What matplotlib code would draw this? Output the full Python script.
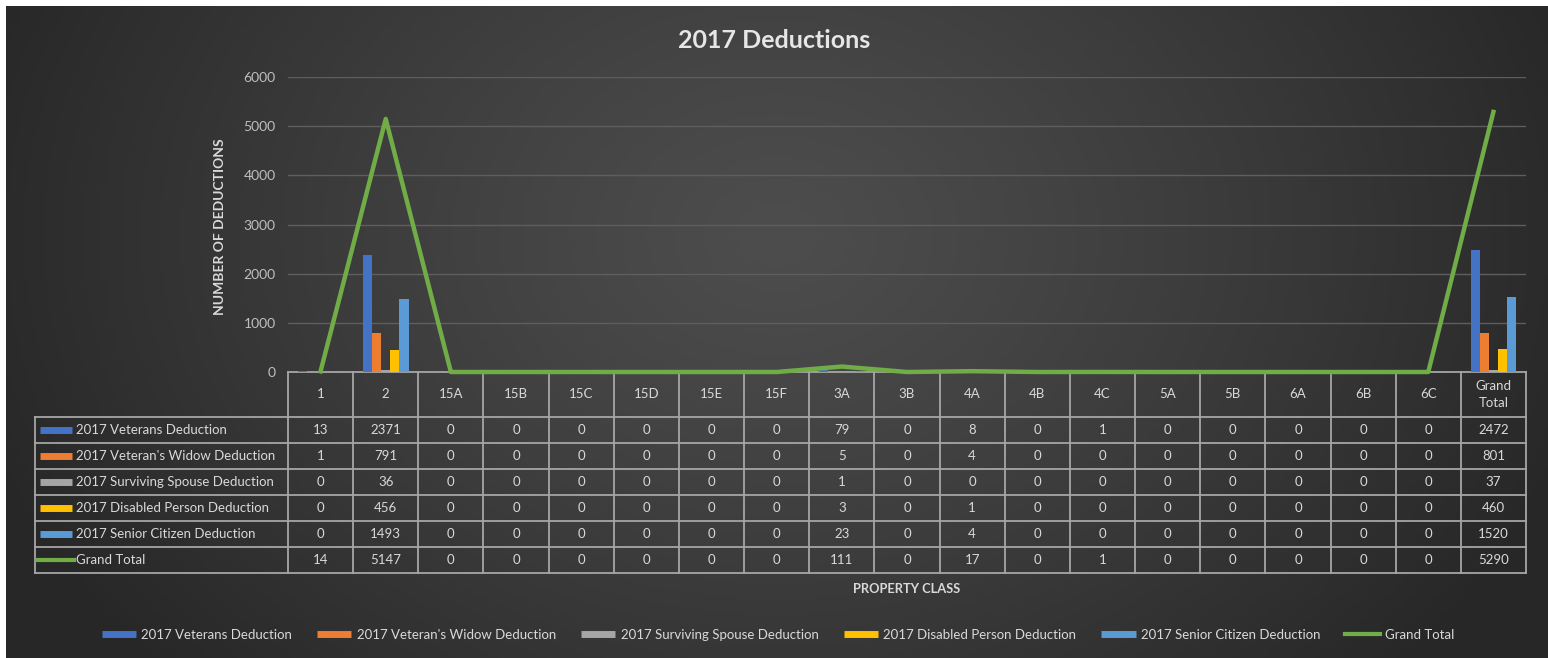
import numpy as np
import matplotlib
matplotlib.use("Agg")
import matplotlib.pyplot as plt
from matplotlib.lines import Line2D
from matplotlib.transforms import blended_transform_factory

# ------------------------------------
# Data
# ------------------------------------
categories = ["1", "2", "15A", "15B", "15C", "15D", "15E", "15F", "3A", "3B",
              "4A", "4B", "4C", "5A", "5B", "6A", "6B", "6C", "Grand\nTotal"]
veterans = [13, 2371, 0, 0, 0, 0, 0, 0, 79, 0, 8, 0, 1, 0, 0, 0, 0, 0, 2472]
widow = [1, 791, 0, 0, 0, 0, 0, 0, 5, 0, 4, 0, 0, 0, 0, 0, 0, 0, 801]
surviving = [0, 36, 0, 0, 0, 0, 0, 0, 1, 0, 0, 0, 0, 0, 0, 0, 0, 0, 37]
disabled = [0, 456, 0, 0, 0, 0, 0, 0, 3, 0, 1, 0, 0, 0, 0, 0, 0, 0, 460]
senior = [0, 1493, 0, 0, 0, 0, 0, 0, 23, 0, 4, 0, 0, 0, 0, 0, 0, 0, 1520]
grand_total = [14, 5147, 0, 0, 0, 0, 0, 0, 111, 0, 17, 0, 1, 0, 0, 0, 0, 0, 5290]

series_names = ["2017 Veterans Deduction", "2017 Veteran's Widow Deduction",
                "2017 Surviving Spouse Deduction", "2017 Disabled Person Deduction",
                "2017 Senior Citizen Deduction"]
series_values = [veterans, widow, surviving, disabled, senior]
series_colors = ["#4472C4", "#ED7D31", "#A5A5A5", "#FFC000", "#5B9BD5"]
line_color = "#70AD47"

plt.rcParams["font.family"] = ["Lato", "DejaVu Sans"]
txt = "#d9d9d9"
grid_c = "#a6a6a6"

W, H = 1548, 658
fig = plt.figure(figsize=(W / 100, H / 100), dpi=100, facecolor="white")

# ------------------------------------
# Background radial gradient
# ------------------------------------
bg = fig.add_axes([6 / W, 0, 1 - 6 / W, 1 - 6 / H], zorder=-10)
bg.axis("off")
gx, gy = np.meshgrid(np.linspace(0, 1, 400), np.linspace(0, 1, 200))
r = np.sqrt(((gx - 0.5) / 0.55) ** 2 + ((gy - 0.35) / 1.0) ** 2)
t = np.clip(r, 0, 1) ** 1.2
light, dark = 0x4d / 255, 0x27 / 255
shade = light * (1 - t) + dark * t
bg.imshow(np.dstack([shade, shade, shade]), aspect="auto", extent=[0, 1, 0, 1])

# ------------------------------------
# Main chart
# ------------------------------------
ax = fig.add_axes([288 / W, (H - 372) / H, (1526 - 288) / W, (372 - 77) / H])
ax.set_facecolor("none")
x = np.arange(len(categories))
bw = 0.14
for i, (name, vals, col) in enumerate(zip(series_names, series_values, series_colors)):
    ax.bar(x + (i - 2) * bw, vals, width=bw, color=col, zorder=3)
ax.plot(x, grand_total, color=line_color, lw=3.2, zorder=5, clip_on=False)

ax.set_xlim(-0.5, len(categories) - 0.5)
ax.set_ylim(0, 6000)
ax.set_yticks(range(0, 6001, 1000))
ax.set_xticks([])
ax.tick_params(axis="y", length=0, pad=9, labelcolor="#bfbfbf", labelsize=10)
ax.yaxis.grid(True, color="#5e5e5e", lw=1)
ax.set_axisbelow(True)
for s in ax.spines.values():
    s.set_visible(False)

# ------------------------------------
# Data table below the chart
# ------------------------------------
tr = blended_transform_factory(ax.transData, ax.transAxes)
def ypix(p):
    return (372 - p) / 295

row_edges = [372, 417, 443, 469, 495, 521, 547, 573]
left = -0.5 - (288 - 35) / 1238 * len(categories)
right = len(categories) - 0.5

# grid lines of the table
for b in np.arange(-0.5, len(categories), 1.0):
    ax.plot([b, b], [ypix(372), ypix(573)], color=grid_c, lw=1.3, transform=tr, clip_on=False, zorder=2)
ax.plot([-0.5, right], [ypix(372), ypix(372)], color=grid_c, lw=1.3, transform=tr, clip_on=False, zorder=2)
for p in row_edges[1:]:
    ax.plot([left, right], [ypix(p), ypix(p)], color=grid_c, lw=1.3, transform=tr, clip_on=False, zorder=2)
ax.plot([left, left], [ypix(417), ypix(573)], color=grid_c, lw=1.3, transform=tr, clip_on=False, zorder=2)

for xi, cat in enumerate(categories):
    ax.text(xi, ypix((372 + 417) / 2), cat, transform=tr, ha="center", va="center",
            color=txt, fontsize=9.5, linespacing=1.5)

all_rows = series_values + [grand_total]
all_names = series_names + ["Grand Total"]
kx0 = left + (40 - 35) / 1238 * len(categories)
kx1 = left + (72 - 35) / 1238 * len(categories)
tx = left + (76 - 35) / 1238 * len(categories)
for ri, (name, vals) in enumerate(zip(all_names, all_rows)):
    yc = ypix((row_edges[ri + 1] + row_edges[ri + 2]) / 2)
    if ri < 5:
        ax.plot([kx0, kx1], [yc, yc], color=series_colors[ri], lw=5, solid_capstyle="butt",
                transform=tr, clip_on=False)
    else:
        ax.plot([kx0 - 0.05, kx1 + 0.03], [yc, yc], color=line_color, lw=3,
                transform=tr, clip_on=False)
    ax.text(tx, yc, name, transform=tr, ha="left", va="center", color=txt, fontsize=9.5)
    for xi, v in enumerate(vals):
        ax.text(xi, yc, str(v), transform=tr, ha="center", va="center", color=txt, fontsize=9.5)

# ------------------------------------
# Titles and labels
# ------------------------------------
fig.text(0.5, 1 - 40 / H, "2017 Deductions", ha="center", va="center",
         fontsize=18, fontweight="bold", color="#e6e6e6")
fig.text(220 / W, 1 - 227 / H, "NUMBER OF DEDUCTIONS", rotation=90, ha="center", va="center",
         fontsize=10, fontweight="bold", color=txt)
fig.text(907 / W, 1 - 589 / H, "PROPERTY CLASS", ha="center", va="center",
         fontsize=9.3, fontweight="bold", color=txt)

# ------------------------------------
# Legend
# ------------------------------------
handles = [Line2D([0], [0], color=c, lw=5, solid_capstyle="butt") for c in series_colors]
handles.append(Line2D([0], [0], color=line_color, lw=3))
leg = fig.legend(handles, all_names, loc="center", bbox_to_anchor=(778 / W, 1 - 635 / H),
                 ncol=6, frameon=False, fontsize=9.5, handlelength=2.6, handletextpad=0.4,
                 columnspacing=1.9)
for t_ in leg.get_texts():
    t_.set_color(txt)

fig.savefig("out.png", dpi=100, facecolor=fig.get_facecolor())
